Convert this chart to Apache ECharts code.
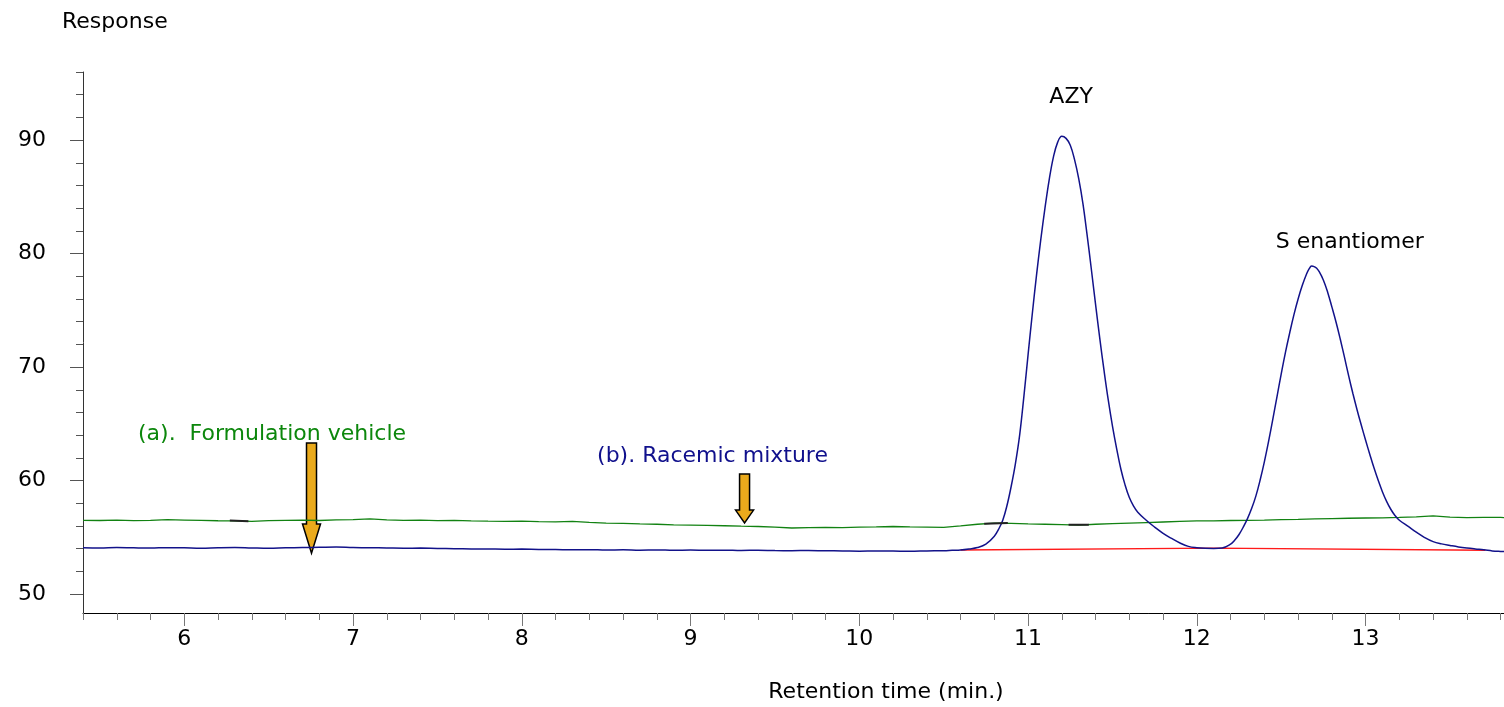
<!DOCTYPE html>
<html>
<head>
<meta charset="utf-8">
<script src="https://cdn.jsdelivr.net/npm/echarts@6/dist/echarts.min.js"></script>
<style>
  html, body { margin: 0; padding: 0; background: #fff; }
  #main { width: 1504px; height: 707px; }
</style>
</head>
<body>
<div id="main"></div>
<script>
// axis ticks
const xMajor = [6, 7, 8, 9, 10, 11, 12, 13];
const xMinor = [5.4, 5.6, 5.8, 6, 6.2, 6.4, 6.6, 6.8, 7, 7.2, 7.4, 7.6, 7.8, 8, 8.2, 8.4, 8.6, 8.8, 9, 9.2, 9.4,
  9.6, 9.8, 10, 10.2, 10.4, 10.6, 10.8, 11, 11.2, 11.4, 11.6, 11.8, 12, 12.2, 12.4, 12.6, 12.8, 13, 13.2, 13.4, 13.6, 13.8];
const yMajor = [50, 60, 70, 80, 90];
const yMinor = [50, 52, 54, 56, 58, 60, 62, 64, 66, 68, 70, 72, 74, 76, 78, 80, 82, 84, 86, 88, 90, 92, 94, 96];

// (a) formulation vehicle  [time, response]
const vehicleTrace = [
  [5.4, 56.50], [5.5, 56.48], [5.6, 56.52], [5.7, 56.47], [5.8, 56.50], [5.9, 56.55], [6.0, 56.52], [6.1, 56.49],
  [6.2, 56.46], [6.3, 56.44], [6.4, 56.40], [6.5, 56.47], [6.6, 56.50], [6.7, 56.52], [6.8, 56.48], [6.9, 56.53],
  [7.0, 56.55], [7.1, 56.62], [7.2, 56.54], [7.3, 56.50], [7.4, 56.52], [7.5, 56.47], [7.6, 56.50], [7.7, 56.45],
  [7.8, 56.42], [7.9, 56.40], [8.0, 56.43], [8.1, 56.38], [8.2, 56.36], [8.3, 56.40], [8.4, 56.32], [8.5, 56.25],
  [8.6, 56.22], [8.7, 56.18], [8.8, 56.15], [8.9, 56.10], [9.0, 56.08], [9.1, 56.05], [9.2, 56.02], [9.3, 55.98],
  [9.4, 55.95], [9.5, 55.90], [9.6, 55.82], [9.7, 55.85], [9.8, 55.88], [9.9, 55.86], [10.0, 55.90], [10.1, 55.92],
  [10.2, 55.95], [10.3, 55.92], [10.4, 55.90], [10.5, 55.88], [10.6, 56.00], [10.7, 56.15], [10.8, 56.25], [10.9, 56.22],
  [11.0, 56.18], [11.1, 56.15], [11.2, 56.12], [11.3, 56.08], [11.4, 56.15], [11.5, 56.20], [11.6, 56.25], [11.7, 56.30],
  [11.8, 56.35], [11.9, 56.40], [12.0, 56.45], [12.1, 56.45], [12.2, 56.48], [12.3, 56.50], [12.4, 56.52], [12.5, 56.55],
  [12.6, 56.58], [12.7, 56.62], [12.8, 56.65], [12.9, 56.68], [13.0, 56.70], [13.1, 56.72], [13.2, 56.75], [13.3, 56.80],
  [13.4, 56.88], [13.5, 56.78], [13.6, 56.74], [13.7, 56.76], [13.8, 56.75], [13.82, 56.74]
];

// (b) racemic mixture
const racemicTrace = [
  [5.4, 54.08], [5.5, 54.06], [5.6, 54.10], [5.7, 54.07], [5.8, 54.05], [5.9, 54.09], [6.0, 54.07], [6.1, 54.04],
  [6.2, 54.08], [6.3, 54.10], [6.4, 54.06], [6.5, 54.03], [6.6, 54.07], [6.7, 54.10], [6.8, 54.12], [6.9, 54.14],
  [7.0, 54.10], [7.1, 54.08], [7.2, 54.06], [7.3, 54.04], [7.4, 54.05], [7.5, 54.02], [7.6, 54.00], [7.7, 53.98],
  [7.8, 53.97], [7.9, 53.95], [8.0, 53.96], [8.1, 53.93], [8.2, 53.92], [8.3, 53.90], [8.4, 53.91], [8.5, 53.88],
  [8.6, 53.90], [8.7, 53.87], [8.8, 53.89], [8.9, 53.86], [9.0, 53.88], [9.1, 53.85], [9.2, 53.87], [9.3, 53.84],
  [9.4, 53.86], [9.5, 53.83], [9.6, 53.82], [9.7, 53.84], [9.8, 53.81], [9.9, 53.80], [10.0, 53.78], [10.1, 53.80],
  [10.2, 53.79], [10.3, 53.77], [10.4, 53.80], [10.5, 53.82],
  // AZY peak
  [10.55, 53.85], [10.6, 53.88], [10.65, 53.97], [10.7, 54.10], [10.75, 54.40], [10.8, 55.10], [10.825, 55.70],
  [10.85, 56.50], [10.875, 57.80], [10.9, 59.50], [10.925, 61.50], [10.95, 64.00], [10.975, 67.40], [11.0, 71.10],
  [11.025, 74.70], [11.05, 78.10], [11.075, 81.20], [11.1, 84.00], [11.125, 86.50], [11.15, 88.50], [11.175, 89.80],
  [11.2, 90.33], [11.225, 90.15], [11.25, 89.55], [11.275, 88.30], [11.3, 86.60], [11.325, 84.40], [11.35, 81.60],
  [11.375, 78.60], [11.4, 75.50], [11.425, 72.50], [11.45, 69.70], [11.475, 67.10], [11.5, 64.80], [11.525, 62.80],
  [11.55, 61.00], [11.575, 59.60], [11.6, 58.50], [11.625, 57.75], [11.65, 57.20], [11.7, 56.50], [11.75, 55.90],
  [11.8, 55.35], [11.85, 54.90], [11.9, 54.50], [11.95, 54.20], [12.0, 54.08], [12.05, 54.03], [12.1, 54.02],
  // S enantiomer peak
  [12.15, 54.06], [12.2, 54.40], [12.225, 54.76], [12.25, 55.25], [12.275, 55.90], [12.3, 56.65], [12.325, 57.55],
  [12.35, 58.65], [12.375, 60.05], [12.4, 61.65], [12.425, 63.45], [12.45, 65.40], [12.475, 67.40], [12.5, 69.40],
  [12.525, 71.30], [12.55, 73.00], [12.575, 74.60], [12.6, 76.00], [12.625, 77.20], [12.65, 78.20], [12.665, 78.65],
  [12.68, 78.90], [12.695, 78.85], [12.71, 78.70], [12.725, 78.40], [12.75, 77.65], [12.775, 76.60], [12.8, 75.30],
  [12.825, 73.95], [12.85, 72.45], [12.875, 70.85], [12.9, 69.20], [12.925, 67.65], [12.95, 66.20], [12.975, 64.85],
  [13.0, 63.55], [13.025, 62.30], [13.05, 61.10], [13.075, 60.00], [13.1, 59.00], [13.125, 58.15], [13.15, 57.45],
  [13.175, 56.90], [13.2, 56.50], [13.25, 55.98], [13.3, 55.45], [13.35, 54.98], [13.4, 54.62], [13.45, 54.42],
  [13.5, 54.28], [13.55, 54.15], [13.6, 54.05], [13.65, 53.97], [13.7, 53.90], [13.75, 53.80], [13.8, 53.75],
  [13.82, 53.74]
];

// integration baseline (red) and small integration marks on trace (a)
const baselineFit = [[10.6, 53.88], [12.1, 54.04], [13.71, 53.86]];
const integrationMarks = [[6.27, 56.47], [6.38, 56.41], [6.4, '-'], [10.74, 56.2], [10.88, 56.26], [10.9, '-'],
  [11.24, 56.1], [11.36, 56.1]];

// arrows: time, top, start of head, tip
const arrowX = [6.754, 9.32];
const arrowTop = [63.3, 60.57];
const arrowHead = [56.17, 57.4];
const arrowTip = [53.6, 56.26];

// annotations
const noteText = ['AZY', 'S enantiomer', '(a).  Formulation vehicle', '(b). Racemic mixture'];
const noteX = [11.255, 12.906, 6.52, 9.13];
const noteY = [93.8, 81.0, 64.1, 62.16];

const FONT = 'DejaVu Sans';
const noteColors = ['#000', '#000', '#0c870c', '#10108c'];

const chart = echarts.init(document.getElementById('main'));

const xBase = { type: 'value', min: 5.4, max: 13.82, position: 'bottom', splitLine: { show: false } };
const yBase = { type: 'value', min: 48.33, max: 96, position: 'left', splitLine: { show: false } };

const option = {
  animation: false,
  backgroundColor: '#fff',
  grid: { left: 83, right: 0, top: 72, bottom: 94, outerBoundsMode: 'none' },
  xAxis: [
    Object.assign({}, xBase, {
      axisLine: { show: true, onZero: false, lineStyle: { color: '#000', width: 1 } },
      axisTick: { show: true, customValues: xMinor, length: 7, lineStyle: { color: '#777' } },
      axisLabel: { show: false }
    }),
    Object.assign({}, xBase, {
      axisLine: { show: false, onZero: false },
      axisTick: { show: true, customValues: xMajor, length: 13, lineStyle: { color: '#777' } },
      axisLabel: { customValues: xMajor, margin: 15, color: '#000', fontSize: 22, fontFamily: FONT }
    })
  ],
  yAxis: [
    Object.assign({}, yBase, {
      axisLine: { show: true, onZero: false, lineStyle: { color: '#333', width: 1 } },
      axisTick: { show: true, customValues: yMinor, length: 7, lineStyle: { color: '#555' } },
      axisLabel: { show: false }
    }),
    Object.assign({}, yBase, {
      axisLine: { show: false, onZero: false },
      axisTick: { show: true, customValues: yMajor, length: 13, lineStyle: { color: '#555' } },
      axisLabel: { customValues: yMajor, margin: 37, color: '#000', fontSize: 22, fontFamily: FONT }
    })
  ],
  graphic: [
    { type: 'text', x: 62, y: 22, style: { text: 'Response', fontSize: 22, fontFamily: FONT, fill: '#000', verticalAlign: 'middle' } },
    { type: 'text', x: 886, y: 692, style: { text: 'Retention time (min.)', fontSize: 22, fontFamily: FONT, fill: '#000', align: 'center', verticalAlign: 'middle' } }
  ],
  series: [
    {
      name: 'Formulation vehicle', type: 'line', data: vehicleTrace, showSymbol: false, silent: true,
      lineStyle: { color: '#128212', width: 1.3 }
    },
    {
      name: 'Baseline', type: 'line', data: baselineFit, showSymbol: false, silent: true,
      lineStyle: { color: '#ff1a1a', width: 1.3 }
    },
    {
      name: 'Racemic mixture', type: 'line', data: racemicTrace, showSymbol: false, silent: true,
      smooth: 0.4, lineStyle: { color: '#12128a', width: 1.5 }
    },
    {
      name: 'Marks', type: 'line', data: integrationMarks, showSymbol: false, silent: true,
      lineStyle: { color: '#222', width: 2 }
    },
    {
      name: 'Arrows', type: 'custom', silent: true,
      data: arrowX.map((x, i) => [x, arrowTop[i], arrowHead[i], arrowTip[i]]),
      renderItem: function (params, api) {
        const top = api.coord([api.value(0), api.value(1)]);
        const head = api.coord([api.value(0), api.value(2)]);
        const tip = api.coord([api.value(0), api.value(3)]);
        const x = top[0], s = 5, h = 9;
        return {
          type: 'polygon',
          shape: {
            points: [[x - s, top[1]], [x + s, top[1]], [x + s, head[1]], [x + h, head[1]],
              [x, tip[1]], [x - h, head[1]], [x - s, head[1]]]
          },
          style: { fill: '#eaaa1c', stroke: '#000', lineWidth: 1.5 }
        };
      }
    },
    {
      name: 'Notes', type: 'custom', silent: true,
      data: noteX.map((x, i) => [x, noteY[i]]),
      renderItem: function (params, api) {
        const p = api.coord([api.value(0), api.value(1)]);
        const i = params.dataIndex;
        return {
          type: 'text', x: p[0], y: p[1],
          style: {
            text: noteText[i], fill: noteColors[i], fontSize: 22, fontFamily: FONT,
            align: 'center', verticalAlign: 'middle'
          }
        };
      }
    }
  ]
};

chart.setOption(option);
</script>
</body>
</html>
